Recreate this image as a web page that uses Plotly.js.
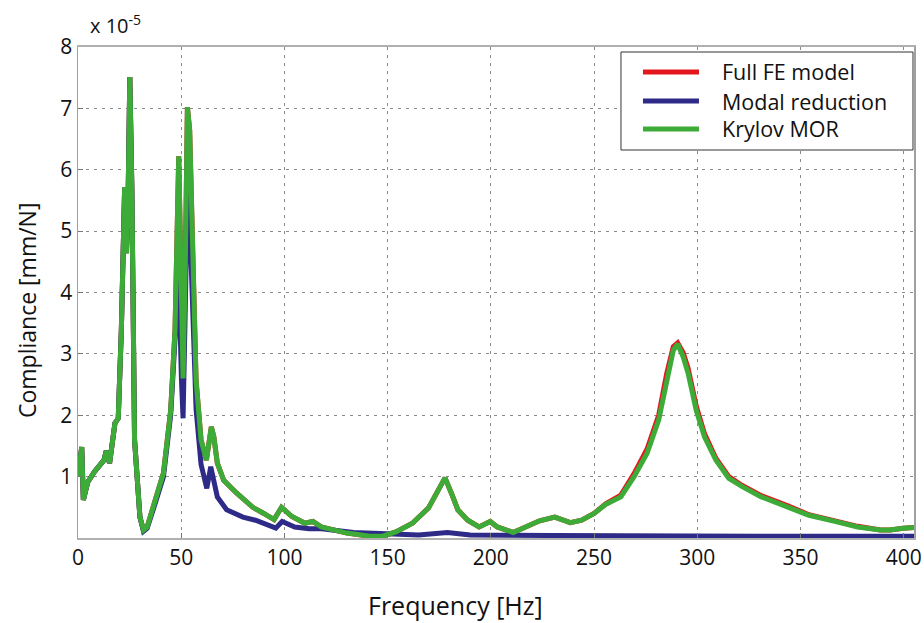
<!DOCTYPE html>
<html>
<head>
<meta charset="utf-8">
<script src="https://cdn.plot.ly/plotly-3.0.1.min.js"></script>
<style>html,body{margin:0;padding:0;background:#fff;}#chart{width:924px;height:623px;}</style>
</head>
<body>
<div id="chart"></div>
<script>
// Frequency samples [Hz]
var freq = [0, 1.8, 2.6, 4.7, 8, 12.6, 13.7, 15.3, 17.9, 19.5, 21, 22.6, 23.5, 24.3, 25.1, 26.1, 27.4, 30, 31.7, 33.5, 37, 41.4, 44.9, 47, 48.8, 50.1, 50.9, 52, 53, 54.1, 55.7, 57.2, 59.6, 62.2, 64.6, 65.8, 67.5, 70.6, 76.9, 84.7, 90, 95, 98.6, 103.6, 109.9, 113.8, 117.8, 130.3, 141.4, 147.6, 154, 162, 169.8, 173.8, 177.8, 180.9, 184, 188.8, 194.3, 199.7, 203.1, 210.8, 217.3, 223.6, 231, 238.5, 244, 250, 255.8, 263, 269.4, 275.7, 281.3, 285.2, 288.4, 290.5, 293.2, 295.6, 299.5, 303.5, 309, 315.3, 321.6, 331, 343.6, 354.1, 366.7, 377.7, 388.7, 393.4, 399.7, 405];

// Krylov MOR compliance [x 1e-5 mm/N]
var krylovMOR = [1.0, 1.48, 0.62, 0.91, 1.08, 1.27, 1.42, 1.22, 1.87, 1.95, 3.39, 5.72, 4.64, 5.6, 7.51, 5.67, 1.6, 0.34, 0.13, 0.18, 0.57, 1.06, 2.08, 3.39, 6.22, 3.92, 2.6, 4.5, 7.02, 6.65, 4.6, 2.57, 1.6, 1.27, 1.81, 1.65, 1.22, 0.94, 0.73, 0.5, 0.4, 0.3, 0.5, 0.35, 0.24, 0.27, 0.18, 0.08, 0.03, 0.03, 0.1, 0.24, 0.49, 0.73, 0.98, 0.73, 0.46, 0.29, 0.18, 0.27, 0.18, 0.09, 0.18, 0.28, 0.34, 0.25, 0.29, 0.4, 0.55, 0.67, 1.0, 1.38, 1.92, 2.57, 3.06, 3.16, 2.95, 2.68, 2.08, 1.65, 1.27, 0.97, 0.84, 0.67, 0.51, 0.37, 0.27, 0.18, 0.13, 0.13, 0.16, 0.17];

// Full FE model compliance [x 1e-5 mm/N]
var fullFE = [1.0, 1.48, 0.62, 0.91, 1.08, 1.27, 1.42, 1.22, 1.87, 1.95, 3.39, 5.72, 4.64, 5.6, 7.51, 5.67, 1.6, 0.34, 0.13, 0.18, 0.57, 1.06, 2.08, 3.39, 6.22, 3.92, 2.6, 4.5, 7.02, 6.65, 4.6, 2.57, 1.6, 1.27, 1.81, 1.65, 1.22, 0.94, 0.73, 0.5, 0.4, 0.3, 0.5, 0.35, 0.24, 0.27, 0.18, 0.08, 0.03, 0.03, 0.1, 0.24, 0.49, 0.73, 0.98, 0.73, 0.46, 0.29, 0.18, 0.27, 0.18, 0.09, 0.18, 0.28, 0.34, 0.25, 0.29, 0.4, 0.56, 0.7, 1.05, 1.45, 2.0, 2.68, 3.12, 3.18, 3.02, 2.76, 2.15, 1.7, 1.3, 1.0, 0.86, 0.69, 0.53, 0.38, 0.28, 0.19, 0.13, 0.13, 0.16, 0.17];

// Modal reduction
var freqModal = [0, 1.8, 2.6, 4.7, 8, 12.6, 13.7, 15.3, 17.9, 19.5, 21, 22.6, 23.5, 24.3, 25.1, 26.1, 27.4, 30, 31.7, 33.5, 37, 41.4, 44.9, 47, 48.8, 50.1, 50.9, 52, 53, 54.1, 55.7, 57.2, 59.6, 62.4, 64.3, 67.5, 72, 79.9, 86, 92.5, 95.8, 98.9, 105, 112, 118, 133.5, 152, 165, 179, 190, 230, 280, 330, 405];
var modalReduction = [1.0, 1.48, 0.62, 0.91, 1.08, 1.27, 1.42, 1.22, 1.87, 1.95, 3.39, 5.72, 4.64, 5.6, 7.51, 5.67, 1.6, 0.34, 0.11, 0.16, 0.52, 1.0, 2.0, 3.2, 4.3, 2.6, 1.95, 3.8, 5.6, 5.2, 3.6, 2.1, 1.2, 0.81, 1.16, 0.67, 0.46, 0.34, 0.29, 0.21, 0.16, 0.27, 0.18, 0.15, 0.15, 0.09, 0.06, 0.05, 0.09, 0.05, 0.04, 0.03, 0.03, 0.03];

var seriesNames = ['Full FE model', 'Modal reduction', 'Krylov MOR'];
var seriesColors = ['#e4161e', '#2e2a87', '#3dab37'];

var xTicks = [0, 50, 100, 150, 200, 250, 300, 350, 400];
var yTicks = [1, 2, 3, 4, 5, 6, 7, 8];
var xTitle = 'Frequency [Hz]';
var yTitle = 'Compliance [mm/N]';

var FONT = 'Open Sans, Noto Sans, sans-serif';
var LW = 5;

var traces = [
  {x: freq, y: fullFE, name: seriesNames[0], type: 'scatter', mode: 'lines',
   line: {color: seriesColors[0], width: LW}},
  {x: freqModal, y: modalReduction, name: seriesNames[1], type: 'scatter', mode: 'lines',
   line: {color: seriesColors[1], width: LW}},
  {x: freq, y: krylovMOR, name: seriesNames[2], type: 'scatter', mode: 'lines',
   line: {color: seriesColors[2], width: LW}}
];

// Custom legend (MATLAB-style box with long line samples)
var legBox = {x0: 0.6495, x1: 0.9988, y0: 0.7902, y1: 0.9898};
var legRows = [0.9491, 0.8900, 0.8330];
var shapes = [{
  type: 'rect', xref: 'paper', yref: 'paper',
  x0: legBox.x0, x1: legBox.x1, y0: legBox.y0, y1: legBox.y1,
  fillcolor: '#ffffff', line: {color: '#333', width: 1}, layer: 'above'
}];
var annotations = [
  {xref: 'paper', yref: 'paper', x: 0.012, y: 1.012, xanchor: 'left', yanchor: 'bottom',
   text: 'x 10<sup>-5</sup>', showarrow: false,
   font: {family: FONT, size: 20, color: '#111'}},
  {xref: 'paper', yref: 'paper', x: 0.452, y: -0.1365, xanchor: 'center', yanchor: 'middle',
   text: xTitle, showarrow: false,
   font: {family: FONT, size: 25, color: '#111'}},
  {xref: 'paper', yref: 'paper', x: -0.061, y: 0.4623, xanchor: 'center', yanchor: 'middle',
   text: yTitle, showarrow: false, textangle: -90,
   font: {family: FONT, size: 23, color: '#111'}}
];
seriesNames.forEach(function (nm, i) {
  shapes.push({
    type: 'line', xref: 'paper', yref: 'paper',
    x0: 0.6758, x1: 0.7428, y0: legRows[i], y1: legRows[i],
    line: {color: seriesColors[i], width: LW}, layer: 'above'
  });
  annotations.push({
    xref: 'paper', yref: 'paper', x: 0.7679, y: legRows[i],
    xanchor: 'left', yanchor: 'middle', showarrow: false, text: nm,
    font: {family: FONT, size: 21.5, color: '#111'}
  });
});

var layout = {
  width: 924, height: 623,
  margin: {l: 78, r: 10, t: 47, b: 85, pad: 0},
  paper_bgcolor: '#ffffff', plot_bgcolor: '#ffffff',
  font: {family: FONT, color: '#111'},
  showlegend: false,
  xaxis: {
    range: [0, 405], tickvals: xTicks, ticktext: xTicks.map(String),
    showgrid: true, gridcolor: '#8a8a8a', griddash: '3px,5px', gridwidth: 1,
    zeroline: false, showline: true, linecolor: '#b0b0b0', linewidth: 2, mirror: true,
    ticks: 'inside', ticklen: 5, tickcolor: '#777',
    tickfont: {family: FONT, size: 21, color: '#111'},
    automargin: false
  },
  yaxis: {
    range: [0, 8], tickvals: yTicks, ticktext: yTicks.map(String),
    showgrid: true, gridcolor: '#8a8a8a', griddash: '3px,5px', gridwidth: 1,
    zeroline: false, showline: true, linecolor: '#a0a0a0', linewidth: 1.5, mirror: true,
    ticks: 'inside', ticklen: 5, tickcolor: '#777',
    tickfont: {family: FONT, size: 21, color: '#111'},
    automargin: false
  },
  shapes: shapes,
  annotations: annotations
};

Plotly.newPlot('chart', traces, layout, {displayModeBar: false, staticPlot: true});
</script>
</body>
</html>
